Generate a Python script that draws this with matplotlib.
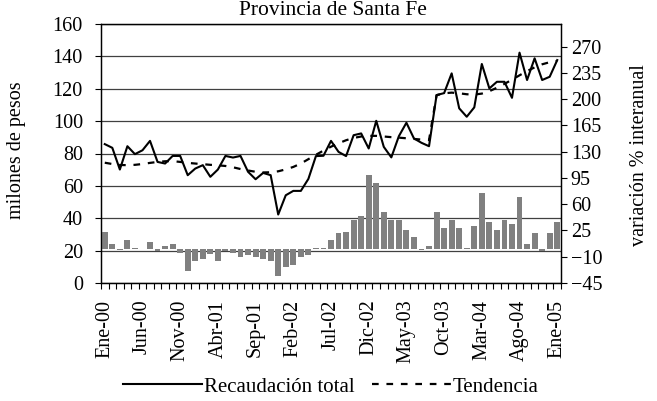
import matplotlib.pyplot as plt
import numpy as np

plt.rcParams['font.family'] = ['Liberation Serif', 'DejaVu Serif']

# Monthly series, Ene-00 .. Ene-05
meses = ["Ene", "Feb", "Mar", "Abr", "May", "Jun", "Jul", "Ago", "Sep", "Oct", "Nov", "Dic"]
periodos = [f"{meses[k % 12]}-{k // 12:02d}" for k in range(61)]

# Recaudación total (millones de pesos)
recaudacion = [
    85.8, 83.5, 70.1, 84.5, 79.6, 82.0, 87.8, 74.8, 73.8, 78.5,
    78.5, 66.6, 70.7, 72.8, 65.6, 70.1, 78.5, 77.5, 78.5, 68.7,
    64.1, 68.0, 66.6, 42.3, 54.2, 56.9, 56.9, 64.3, 78.4, 78.6,
    87.8, 81.0, 78.4, 91.3, 92.4, 83.1, 100.2, 84.1, 77.6, 90.7,
    99.0, 89.3, 86.6, 84.5, 116.1, 117.3, 129.5, 107.9, 102.7, 108.5,
    135.3, 120.2, 124.3, 124.3, 114.4, 142.3, 125.4, 138.8, 125.4, 127.4,
    137.7,
]

# Tendencia (millones de pesos)
tendencia = [
    74.3, 73.5, 72.9, 72.8, 73.0, 73.5, 74.2, 74.8, 75.2, 75.3,
    74.8, 74.2, 73.8, 73.4, 73.0, 72.7, 72.3, 71.5, 70.4, 69.5,
    68.7, 68.3, 68.4, 69.0, 70.2, 71.7, 73.8, 76.5, 79.2, 81.8,
    84.2, 86.3, 88.2, 89.6, 90.5, 90.9, 90.9, 90.5, 90.1, 89.8,
    89.4, 89.0, 88.6, 88.3, 116.0, 117.2, 117.6, 117.2, 116.6, 116.4,
    117.0, 118.5, 120.6, 123.0, 125.6, 128.3, 130.9, 133.2, 135.1, 136.4,
    137.2,
]

# Variación % interanual
variacion = [
    23.1, 6.7, -1.0, 12.0, 1.8, 0.5, 9.3, -2.2, 4.0, 6.7,
    -4.9, -29.0, -15.6, -13.0, -7.0, -15.6, -2.2, -4.9, -10.2, -8.0,
    -10.2, -13.0, -15.6, -35.6, -23.6, -21.0, -10.2, -8.0, 1.0, 1.0,
    12.4, 21.0, 23.0, 39.0, 44.0, 99.0, 88.0, 49.4, 38.7, 38.7,
    25.4, 16.0, -1.0, 4.3, 49.4, 28.5, 39.0, 28.5, 2.0, 31.0,
    75.0, 36.0, 25.4, 38.7, 33.4, 69.5, 7.0, 21.4, -2.0, 21.4,
    36.0,
]

x = np.arange(len(periodos))
fs = 14.5

fig = plt.figure(figsize=(6.57, 4.01), dpi=100)
ax = fig.add_axes([101 / 657, 1 - 283 / 401, 460 / 657, 259 / 401])

# left axis: grid + ticks
ax.set_xlim(-0.5, len(x) - 0.5)
ax.set_ylim(0, 160)
ax.set_yticks(np.arange(0, 161, 20))
ax.grid(True, axis='y', color='0.25', linewidth=0.9)
ax.set_axisbelow(True)
ax.tick_params(axis='y', direction='out', length=4, width=0.8, pad=9, labelsize=fs)
ax.set_xticks(x[::5])
ax.set_xticklabels([periodos[i] for i in x[::5]], rotation=90, fontsize=fs)
ax.set_xticks(np.arange(-0.5, len(x)), minor=True)
ax.tick_params(axis='x', which='major', length=0, pad=12)
ax.tick_params(axis='x', which='minor', direction='out', length=4, width=0.8)

# right axis: bars
ax2 = ax.twinx()
ax2.bar(x, variacion, width=0.78, color='#808080', zorder=2)
ax2.set_ylim(-45, 300)
ax2.set_yticks(np.arange(-45, 271, 35))
ax2.tick_params(axis='y', direction='out', length=4, width=0.8, pad=3, labelsize=fs)

# lines on the left scale, drawn above the bars
ax3 = ax.twinx()
ax3.set_ylim(ax.get_ylim())
ax3.axis('off')
ax3.plot(x, recaudacion, color='black', linewidth=1.5, label='Recaudación total')
ax3.plot(x, tendencia, color='black', linewidth=1.6, linestyle=(0, (3, 3.5)), label='Tendencia')

for a in (ax, ax2):
    for s in a.spines.values():
        s.set_linewidth(0.9)
        s.set_color('black')

fig.text(333 / 657, 1 - 15 / 401, 'Provincia de Santa Fe', ha='center', va='baseline', fontsize=15.5)
fig.text(17 / 657, 1 - 150 / 401, 'milones de pesos', rotation=90, ha='center', va='center', fontsize=fs)
fig.text(640 / 657, 1 - 155 / 401, 'variación % interanual', rotation=90, ha='center', va='center', fontsize=fs)

fig.legend(loc='center', bbox_to_anchor=(331 / 657, 1 - 387 / 401), ncol=2, frameon=False,
           fontsize=15, handlelength=3.8, handletextpad=0.1, columnspacing=0.8, borderpad=0)

fig.savefig('out.png', dpi=100)
